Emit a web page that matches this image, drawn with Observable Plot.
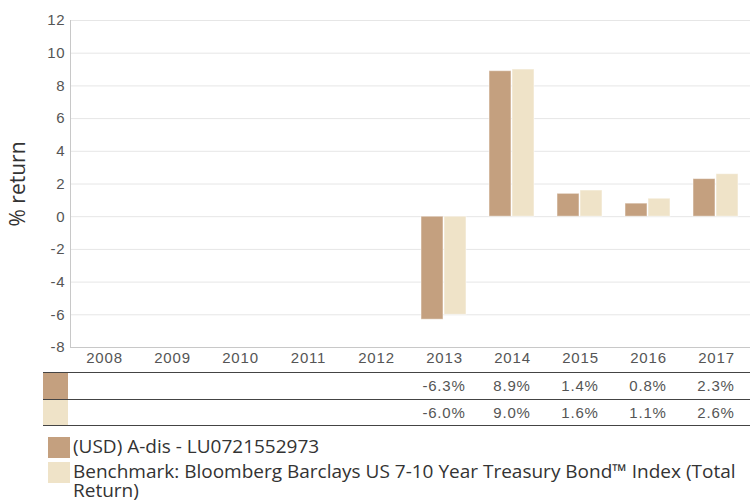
<!DOCTYPE html>
<html><head><meta charset="utf-8">
<script src="https://cdn.jsdelivr.net/npm/d3@7"></script>
<script src="https://cdn.jsdelivr.net/npm/@observablehq/plot@0.6"></script>
<style>
body{margin:0;background:#fff;}
#wrap{position:relative;width:755px;height:502px;overflow:hidden;font-family:"Liberation Sans",Arial,sans-serif;}
#wrap svg{position:absolute;left:0;top:0;}
.ylab{position:absolute;left:17px;top:184px;transform:translate(-50%,-50%) rotate(-90deg);font-family:"Open Sans",sans-serif;font-size:21px;color:#333;white-space:nowrap;}
.tline{position:absolute;left:43px;width:707px;height:1px;background:#444;}
.tsw{position:absolute;left:43px;width:25px;}
.tval{position:absolute;font-size:15px;letter-spacing:0.8px;color:#555;text-align:center;line-height:16px;}
.leg{position:absolute;left:48px;width:705px;font-family:"Open Sans",sans-serif;font-size:19px;color:#333;line-height:19px;}
.leg .sw{position:absolute;left:0;top:0;width:22px;height:21px;}
.leg .tx{margin-left:25px;}
</style></head><body><div id="wrap"></div>
<script>
const years = ["2008","2009","2010","2011","2012","2013","2014","2015","2016","2017"];
const seriesKeys = ["fund","bench"];
const seriesNames = ["(USD) A-dis - LU0721552973","Benchmark: Bloomberg Barclays US 7-10 Year Treasury Bond\u2122 Index (Total Return)"];
const fundValues = [null,null,null,null,null,-6.3,8.9,1.4,0.8,2.3];
const benchValues = [null,null,null,null,null,-6.0,9.0,1.6,1.1,2.6];
const seriesColors = ["#c4a07f","#efe3c8"];
const yTicks = [-8,-6,-4,-2,0,2,4,6,8,10,12];
const yLabel = "% return";

const seriesValues = [fundValues, benchValues];
const data = [];
years.forEach((yr,i)=>{
  seriesKeys.forEach((k,j)=>{
    const v = seriesValues[j][i];
    if (v != null) data.push({year:yr, series:k, value:v});
  });
});
const gridData = years.flatMap(yr => yTicks.map(t => ({year:yr, tick:t})));
const baseData = years.map(yr => ({year:yr, tick:yTicks[0]}));

const chart = Plot.plot({
  width:755, height:368, marginLeft:69, marginRight:5, marginTop:20, marginBottom:21,
  style:{fontFamily:'"Liberation Sans",Arial,sans-serif', fontSize:"15px", letterSpacing:"0.8px", color:"#555", background:"transparent"},
  fx:{domain:years, padding:0, label:null},
  x:{domain:seriesKeys, paddingInner:0.04, paddingOuter:0.46, axis:null},
  y:{domain:[-8,12], label:null},
  color:{domain:seriesKeys, range:seriesColors},
  marks:[
    Plot.ruleY(gridData, {fx:"year", y:"tick", stroke:"#e6e6e6"}),
    Plot.ruleY(baseData, {fx:"year", y:"tick", stroke:"#c8c8c8"}),
    Plot.frame({anchor:"left", facetAnchor:"left", stroke:"#c8c8c8"}),
    Plot.barY(data, {fx:"year", x:"series", y:"value", fill:"series", stroke:"#fff", strokeOpacity:0.5, strokeWidth:1}),
    Plot.axisY(yTicks, {tickSize:0, tickPadding:5, label:null, fill:"#555", facetAnchor:"left", tickFormat:d => String(d)}),
    Plot.axisFx({anchor:"bottom", tickSize:0, tickPadding:5, label:null, fill:"#555"})
  ]
});
const wrap = document.getElementById("wrap");
wrap.appendChild(chart);

const yl = document.createElement("div");
yl.className = "ylab"; yl.textContent = yLabel; wrap.appendChild(yl);

const fx = chart.scale("fx");
const bw = fx.bandwidth;
const lineTops = [372, 399, 425];
lineTops.forEach(t=>{ const d=document.createElement("div"); d.className="tline"; d.style.top=t+"px"; wrap.appendChild(d); });
seriesKeys.forEach((k,j)=>{
  const top = lineTops[j]+1, h = lineTops[j+1]-lineTops[j]-1;
  const sw = document.createElement("div"); sw.className="tsw"; sw.style.top=top+"px"; sw.style.height=h+"px"; sw.style.background=seriesColors[j]; wrap.appendChild(sw);
  years.forEach((yr,i)=>{
    const v = seriesValues[j][i];
    if (v == null) return;
    const t = document.createElement("div"); t.className="tval";
    t.style.left = fx.apply(yr)+"px"; t.style.width = bw+"px";
    t.style.top = (top + h/2 - 8)+"px";
    t.textContent = v.toFixed(1)+"%";
    wrap.appendChild(t);
  });
});

const legTops = [437, 462];
seriesKeys.forEach((k,j)=>{
  const d = document.createElement("div"); d.className="leg"; d.style.top = legTops[j]+"px";
  const sw = document.createElement("div"); sw.className="sw"; sw.style.background=seriesColors[j]; sw.style.top="0px";
  const tx = document.createElement("div"); tx.className="tx"; tx.textContent = seriesNames[j];
  d.appendChild(sw); d.appendChild(tx); wrap.appendChild(d);
});
</script></body></html>
